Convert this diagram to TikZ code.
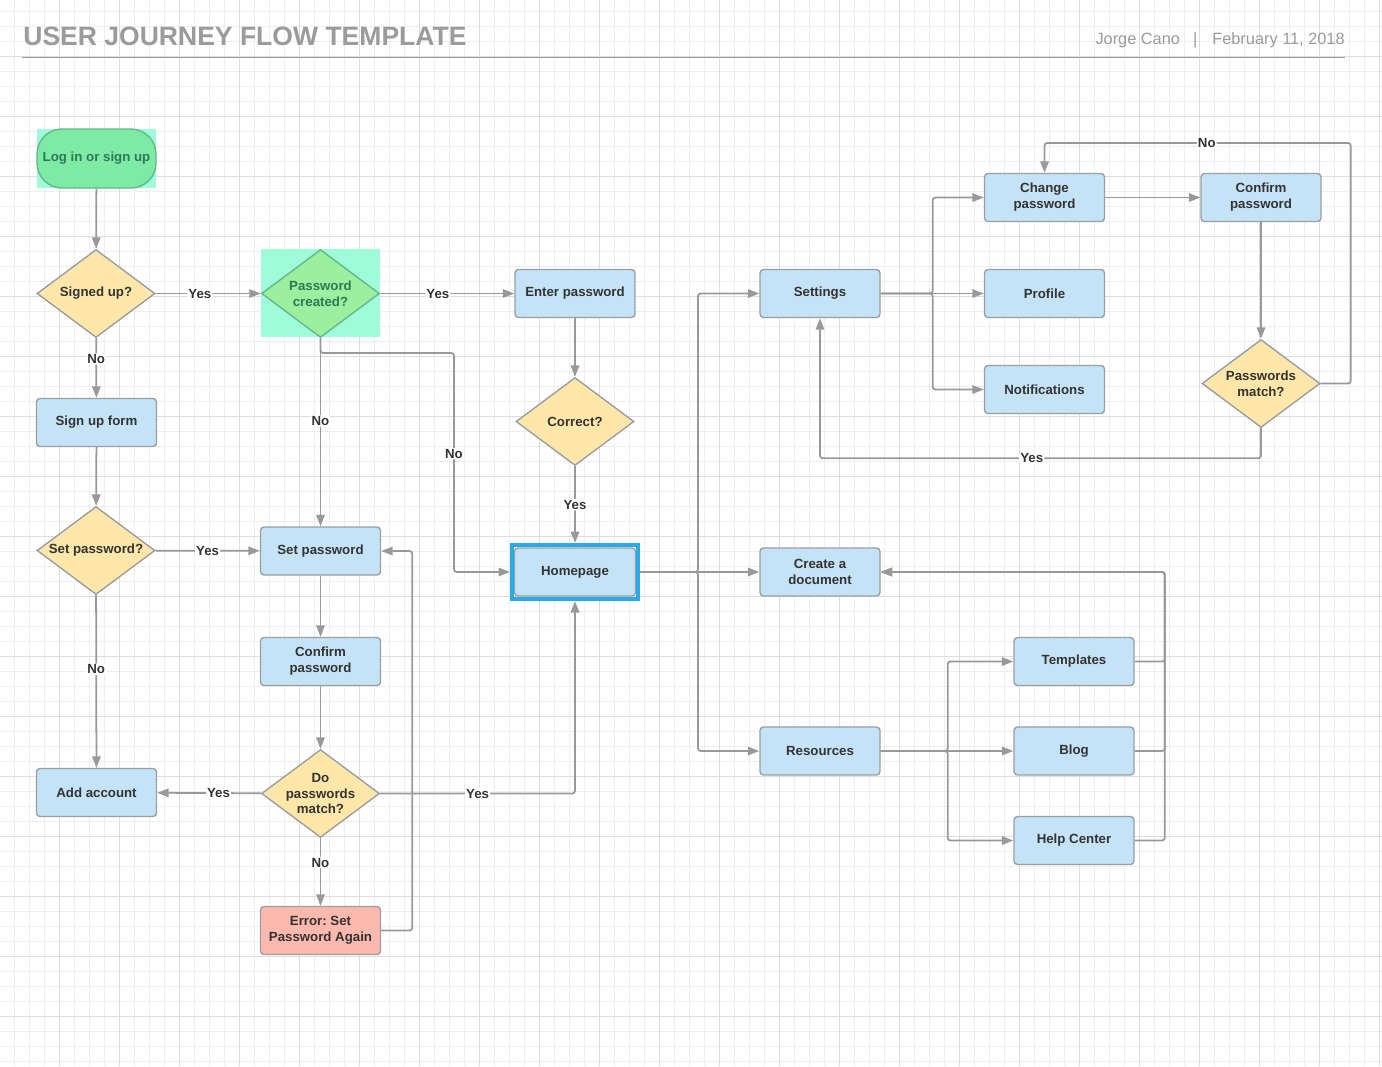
\documentclass[tikz,border=0pt]{standalone}
\usepackage{fontspec}
\setmainfont{Liberation Sans}
\usetikzlibrary{shapes.geometric,arrows.meta}
\frenchspacing

\definecolor{gridminor}{HTML}{EEEEEE}
\definecolor{gridmajor}{HTML}{DDDDDD}
\definecolor{linegray}{HTML}{999999}
\definecolor{boxline}{HTML}{9A9FA4}
\definecolor{boxfill}{HTML}{C4E3F6}
\definecolor{decfill}{HTML}{FFE7AA}
\definecolor{pillfill}{HTML}{7DEBA6}
\definecolor{pillline}{HTML}{62B98A}
\definecolor{greentext}{HTML}{2C7A54}
\definecolor{greendec}{HTML}{9BEF9F}
\definecolor{mint}{HTML}{9FFBDA}
\definecolor{errfill}{HTML}{FDB9AE}
\definecolor{hlblue}{HTML}{2BAAE6}
\definecolor{textdark}{HTML}{333333}
\definecolor{headgray}{HTML}{9B9B9B}

\newcommand{\nodetxt}{\fontsize{7.55}{9.07}\selectfont\bfseries}

\begin{document}
\begin{tikzpicture}[x=0.02cm, y=-0.02cm,
    box/.style={draw=boxline, fill=boxfill, line width=0.8pt, rounded corners=2pt,
        minimum width=2.4cm, minimum height=0.96cm, inner sep=1pt,
        align=center, font=\nodetxt, text=textdark},
    decision/.style={diamond, aspect=1.34, draw=boxline, fill=decfill, line width=0.8pt,
        minimum width=2.36cm, minimum height=1.76cm, inner sep=-1.5pt,
        align=center, font=\nodetxt, text=textdark},
    flow/.style={draw=linegray, line width=1pt, rounded corners=1.5pt,
        -{Triangle[length=2.3mm,width=1.7mm]}},
    lbl/.style={fill=white, inner sep=0.6pt, font=\nodetxt, text=textdark}
]
\useasboundingbox (0,0) rectangle (1382,1066);
\fill[white] (0,0) rectangle (1382,1066);

% background grid
\foreach \x in {14,29,...,1380} \draw[gridminor, line width=0.4pt] (\x,0) -- (\x,1066);
\foreach \y in {11,26,...,1066} \draw[gridminor, line width=0.4pt] (0,\y) -- (1382,\y);
\foreach \x in {59,119,...,1380} \draw[gridmajor, line width=0.5pt] (\x,0) -- (\x,1066);
\foreach \y in {56,116,...,1066} \draw[gridmajor, line width=0.5pt] (0,\y) -- (1382,\y);

% header
\node[anchor=base west, inner sep=0, text=headgray, font=\fontsize{15.1}{17}\selectfont\bfseries] (title) at (23,45) {USER JOURNEY FLOW TEMPLATE};
\node[anchor=base east, inner sep=0, text=headgray, font=\fontsize{9.3}{11}\selectfont] (author) at (1345,44) {Jorge Cano\hspace{7.5pt}|\hspace{8.5pt}February 11, 2018};
\draw[headgray, line width=0.8pt] (22,57.5) -- (1345,57.5);

% highlights
\fill[mint] (37,129) rectangle (156,188);
\fill[mint] (261,249) rectangle (380,337);

% left column
\node[box, fill=pillfill, draw=pillline, text=greentext, rounded corners=0.5cm,
    minimum width=2.38cm, minimum height=1.18cm] (login) at (96.5,158.5) {Log in or sign up};
\node[decision] (signed) at (96,293.5) {Signed up?};
\node[box] (signup) at (96.5,422.5) {Sign up form};
\node[decision] (setq) at (96,550.5) {Set password?};
\node[box] (addacc) at (96.5,792.5) {Add account};

% password column
\node[decision, fill=greendec, draw=pillline, text=greentext] (pwdc) at (320.5,293.5) {Password\\created?};
\node[box] (setpw) at (320.5,551) {Set password};
\node[box] (confl) at (320.5,661.5) {Confirm\\password};
\node[decision] (dpm) at (320.5,793.5) {Do\\passwords\\match?};
\node[box, fill=errfill] (err) at (320.5,930.5) {Error: Set\\Password Again};

% login column
\node[box] (enter) at (575,293.5) {Enter password};
\node[decision] (correct) at (575,421.5) {Correct?};
\node[box, minimum width=2.42cm] (home) at (575,572) {Homepage};
\node[draw=hlblue, line width=2.3pt, minimum width=2.52cm, minimum height=1.08cm, inner sep=0] (homehl) at (575,572) {};

% main sections
\node[box] (settings) at (820,293.5) {Settings};
\node[box] (create) at (820,572) {Create a\\document};
\node[box] (resources) at (820,751) {Resources};

% settings branch
\node[box] (chpw) at (1044.5,197.5) {Change\\password};
\node[box] (profile) at (1044.5,293.5) {Profile};
\node[box] (notif) at (1044.5,389.5) {Notifications};
\node[box] (confr) at (1261,197.5) {Confirm\\password};
\node[decision] (pm) at (1261,383.5) {Passwords\\match?};
\coordinate (noturn) at (1044.5,143);

% resources branch
\node[box] (templates) at (1074,661.5) {Templates};
\node[box] (blog) at (1074,751) {Blog};
\node[box] (help) at (1074,840.5) {Help Center};

% connectors
\draw[flow] (login) -- (signed);
\draw[flow] (signed) -- (pwdc) node[lbl, pos=0.42] {Yes};
\draw[flow] (signed) -- (signup) node[lbl, pos=0.35] {No};
\draw[flow] (pwdc) -- (enter) node[lbl, pos=0.43] {Yes};
\draw[flow] (pwdc) -- (setpw) node[lbl, pos=0.44] {No};
\draw[flow] (pwdc.south) |- (454,353) |- (homehl.west) node[lbl, pos=0.23] {No};
\draw[flow] (enter) -- (correct);
\draw[flow] (correct) -- (homehl) node[lbl, pos=0.5] {Yes};
\draw[flow] (signup) -- (setq);
\draw[flow] (setq) -- (setpw) node[lbl, pos=0.5] {Yes};
\draw[flow] (setq) -- (addacc) node[lbl, pos=0.43] {No};
\draw[flow] (setpw) -- (confl);
\draw[flow] (confl) -- (dpm);
\draw[flow] (dpm) -- (addacc) node[lbl, pos=0.41] {Yes};
\draw[flow] (dpm.east) -| (homehl.south) node[lbl, pos=0.25] {Yes};
\draw[flow] (dpm) -- (err) node[lbl, pos=0.36] {No};
\draw[flow] (err.east) -- ++(31,0) |- (setpw.east);

\draw[flow] (homehl) -- (create);
\draw[flow] (homehl.east) -- ++(58,0) |- (settings.west);
\draw[flow] (homehl.east) -- ++(58,0) |- (resources.west);

\draw[flow] (settings.east) -- ++(52,0) |- (chpw.west);
\draw[flow] (settings) -- (profile);
\draw[flow] (settings.east) -- ++(52,0) |- (notif.west);
\draw[flow] (chpw) -- (confr);
\draw[flow] (confr) -- (pm);
\draw[flow] (pm.east) -- ++(30,0) |- (noturn) node[lbl, pos=0.735] {No} -- (chpw.north);
\draw[flow] (pm.south) -- ++(0,30) -| (settings.south) node[lbl, pos=0.26] {Yes};

\draw[flow] (resources.east) -- ++(67,0) |- (templates.west);
\draw[flow] (resources) -- (blog);
\draw[flow] (resources.east) -- ++(67,0) |- (help.west);
\foreach \src in {templates,blog,help}
    \draw[flow] (\src.east) -- ++(30,0) |- (create.east);
\end{tikzpicture}
\end{document}
